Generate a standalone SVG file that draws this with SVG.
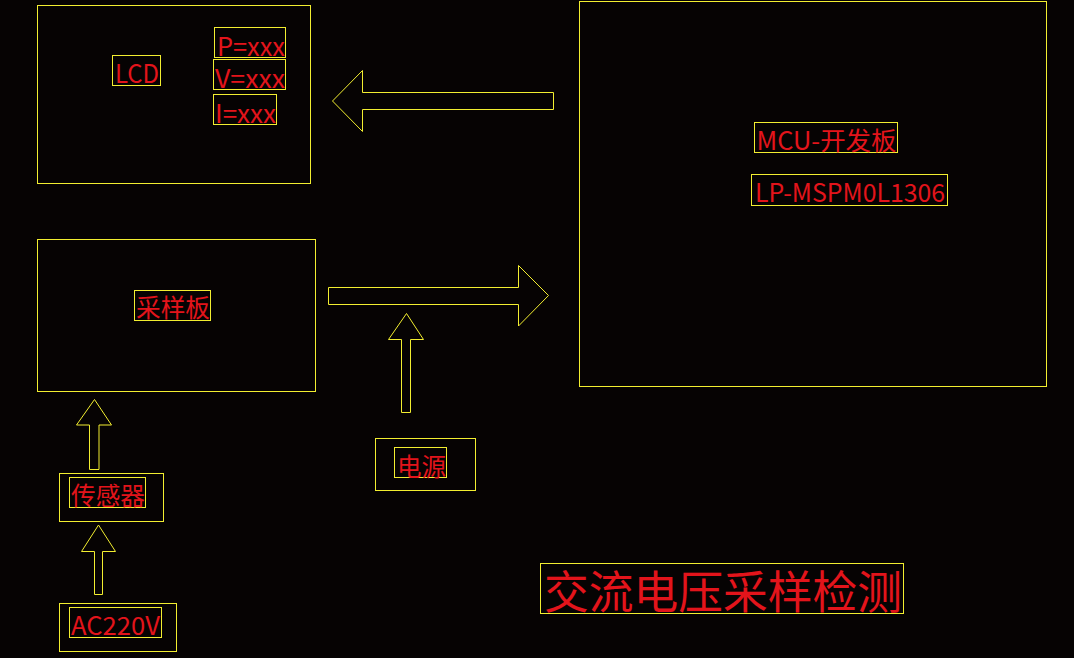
<svg xmlns="http://www.w3.org/2000/svg" width="1074" height="658" viewBox="0 0 1074 658">
<style>
.box{fill:none;stroke:#f2ee30;stroke-width:1}
.arr{fill:none;stroke:#f2ee30;stroke-width:1}
.t{fill:#e3141b;font-family:"Noto Sans CJK SC","Noto Sans",sans-serif;font-size:25px}
.title{font-size:45px}
</style>
<rect width="1074" height="658" fill="#060303"/>
<g id="lcd">
<rect class="box" x="37.5" y="5.5" width="273" height="178"/>
<rect class="box" x="112.5" y="55.5" width="48" height="30"/>
<text class="t" x="115" y="83" textLength="44" lengthAdjust="spacingAndGlyphs">LCD</text>
<rect class="box" x="214.5" y="27.5" width="71" height="30"/>
<text class="t" x="217" y="56" textLength="68" lengthAdjust="spacingAndGlyphs">P=xxx</text>
<rect class="box" x="213.5" y="59.5" width="72" height="30"/>
<text class="t" x="215" y="88" textLength="70" lengthAdjust="spacingAndGlyphs">V=xxx</text>
<rect class="box" x="213.5" y="94.5" width="63" height="30"/>
<text class="t" x="215" y="123" textLength="61" lengthAdjust="spacingAndGlyphs">I=xxx</text>
</g>
<g id="mcu">
<rect class="box" x="579.5" y="1.5" width="467" height="385"/>
<rect class="box" x="754.5" y="122.5" width="143" height="30"/>
<text class="t" x="756.5" y="150" textLength="140" lengthAdjust="spacingAndGlyphs">MCU-开发板</text>
<rect class="box" x="751.5" y="174.5" width="196" height="31"/>
<text class="t" x="755" y="202" textLength="190" lengthAdjust="spacingAndGlyphs">LP-MSPM0L1306</text>
</g>
<g id="sampler">
<rect class="box" x="37.5" y="239.5" width="278" height="152"/>
<rect class="box" x="134.5" y="290.5" width="76" height="30"/>
<text class="t" x="136" y="317" textLength="74" lengthAdjust="spacingAndGlyphs">采样板</text>
</g>
<g id="power">
<rect class="box" x="375.5" y="438.5" width="100" height="52"/>
<rect class="box" x="394.5" y="447.5" width="52" height="30"/>
<text class="t" x="397" y="476" textLength="49" lengthAdjust="spacingAndGlyphs">电源</text>
</g>
<g id="sensor">
<rect class="box" x="59.5" y="473.5" width="104" height="48"/>
<rect class="box" x="69.5" y="477.5" width="76" height="30"/>
<text class="t" x="71" y="505" textLength="74" lengthAdjust="spacingAndGlyphs">传感器</text>
</g>
<g id="ac">
<rect class="box" x="59.5" y="603.5" width="117" height="48"/>
<rect class="box" x="69.5" y="607.5" width="92" height="30"/>
<text class="t" x="71" y="635" textLength="89" lengthAdjust="spacingAndGlyphs">AC220V</text>
</g>
<g id="title">
<rect class="box" x="540.5" y="563.5" width="363" height="50"/>
<text class="t title" x="544" y="609" textLength="358" lengthAdjust="spacingAndGlyphs">交流电压采样检测</text>
</g>
<g id="connectors">
<polygon class="arr" points="332.5,101 362.5,70.5 362.5,92.5 553.5,92.5 553.5,109.5 362.5,109.5 362.5,131.5"/>
<polygon class="arr" points="328.5,287.5 518.5,287.5 518.5,265.5 548.5,295.5 518.5,326 518.5,304.5 328.5,304.5"/>
<polygon class="arr" points="406.5,313.5 423.5,339.5 410.5,339.5 410.5,412.5 401.5,412.5 401.5,339.5 388.5,339.5"/>
<polygon class="arr" points="94.5,399.5 111.5,425 99,425 99,469.5 89.5,469.5 89.5,425 76.5,425"/>
<polygon class="arr" points="98.5,525 115.5,551.5 102.5,551.5 102.5,594.5 94.5,594.5 94.5,551.5 81.5,551.5"/>
</g>
</svg>
